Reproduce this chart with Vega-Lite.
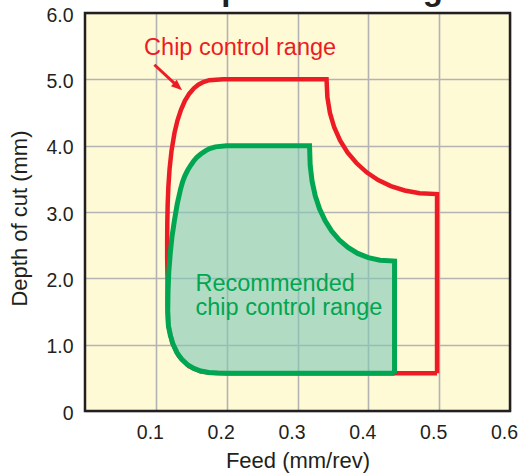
{
  "$schema": "https://vega.github.io/schema/vega-lite/v6.json",
  "autosize": {"type": "none"},
  "padding": {"left": 85, "top": 13, "right": 11, "bottom": 63},
  "width": 425,
  "height": 398,
  "title": {
    "text": "Chip control range",
    "fontSize": 33,
    "fontWeight": "bold",
    "font": "Liberation Sans",
    "color": "#231f20",
    "anchor": "start",
    "frame": "group",
    "dx": 83,
    "offset": -2
  },
  "datasets": {
    "red": [
      {"i": 0, "feed": 0.497, "doc": 0.57},
      {"i": 1, "feed": 0.497, "doc": 3.27},
      {"i": 2, "feed": 0.4725, "doc": 3.2835},
      {"i": 3, "feed": 0.4513, "doc": 3.324},
      {"i": 4, "feed": 0.4318, "doc": 3.39},
      {"i": 5, "feed": 0.4139, "doc": 3.482},
      {"i": 6, "feed": 0.3976, "doc": 3.598},
      {"i": 7, "feed": 0.3832, "doc": 3.738},
      {"i": 8, "feed": 0.3706, "doc": 3.898},
      {"i": 9, "feed": 0.3601, "doc": 4.079},
      {"i": 10, "feed": 0.3518, "doc": 4.277},
      {"i": 11, "feed": 0.3458, "doc": 4.494},
      {"i": 12, "feed": 0.3422, "doc": 4.728},
      {"i": 13, "feed": 0.341, "doc": 5.0},
      {"i": 14, "feed": 0.195, "doc": 5.0},
      {"i": 15, "feed": 0.1755, "doc": 4.987},
      {"i": 16, "feed": 0.167, "doc": 4.96},
      {"i": 17, "feed": 0.16, "doc": 4.919},
      {"i": 18, "feed": 0.1537, "doc": 4.865},
      {"i": 19, "feed": 0.1472, "doc": 4.784},
      {"i": 20, "feed": 0.141, "doc": 4.676},
      {"i": 21, "feed": 0.1355, "doc": 4.541},
      {"i": 22, "feed": 0.1305, "doc": 4.379},
      {"i": 23, "feed": 0.1263, "doc": 4.19},
      {"i": 24, "feed": 0.1221, "doc": 3.92},
      {"i": 25, "feed": 0.1194, "doc": 3.65},
      {"i": 26, "feed": 0.1177, "doc": 3.38},
      {"i": 27, "feed": 0.1167, "doc": 3.11},
      {"i": 28, "feed": 0.1162, "doc": 2.84},
      {"i": 29, "feed": 0.116, "doc": 2.57},
      {"i": 30, "feed": 0.116, "doc": 2.3},
      {"i": 31, "feed": 0.1165, "doc": 2.0},
      {"i": 32, "feed": 0.1165, "doc": 1.6},
      {"i": 33, "feed": 0.1175, "doc": 1.3},
      {"i": 34, "feed": 0.1232, "doc": 1.03},
      {"i": 35, "feed": 0.1325, "doc": 0.83},
      {"i": 36, "feed": 0.1465, "doc": 0.675},
      {"i": 37, "feed": 0.163, "doc": 0.6},
      {"i": 38, "feed": 0.177, "doc": 0.578},
      {"i": 39, "feed": 0.2, "doc": 0.57},
      {"i": 40, "feed": 0.497, "doc": 0.57}
    ],
    "green": [
      {"i": 0, "feed": 0.437, "doc": 0.57},
      {"i": 1, "feed": 0.437, "doc": 2.26},
      {"i": 2, "feed": 0.4166, "doc": 2.273},
      {"i": 3, "feed": 0.4, "doc": 2.312},
      {"i": 4, "feed": 0.385, "doc": 2.376},
      {"i": 5, "feed": 0.3713, "doc": 2.465},
      {"i": 6, "feed": 0.3591, "doc": 2.577},
      {"i": 7, "feed": 0.3482, "doc": 2.713},
      {"i": 8, "feed": 0.3389, "doc": 2.87},
      {"i": 9, "feed": 0.3311, "doc": 3.048},
      {"i": 10, "feed": 0.325, "doc": 3.2455},
      {"i": 11, "feed": 0.3206, "doc": 3.463},
      {"i": 12, "feed": 0.3179, "doc": 3.704},
      {"i": 13, "feed": 0.317, "doc": 4.0},
      {"i": 14, "feed": 0.2, "doc": 4.0},
      {"i": 15, "feed": 0.184, "doc": 3.982},
      {"i": 16, "feed": 0.176, "doc": 3.955},
      {"i": 17, "feed": 0.17, "doc": 3.922},
      {"i": 18, "feed": 0.1635, "doc": 3.875},
      {"i": 19, "feed": 0.158, "doc": 3.826},
      {"i": 20, "feed": 0.1532, "doc": 3.765},
      {"i": 21, "feed": 0.149, "doc": 3.7},
      {"i": 22, "feed": 0.1447, "doc": 3.625},
      {"i": 23, "feed": 0.141, "doc": 3.545},
      {"i": 24, "feed": 0.1378, "doc": 3.455},
      {"i": 25, "feed": 0.135, "doc": 3.35},
      {"i": 26, "feed": 0.1302, "doc": 3.12},
      {"i": 27, "feed": 0.1262, "doc": 2.87},
      {"i": 28, "feed": 0.1227, "doc": 2.62},
      {"i": 29, "feed": 0.1203, "doc": 2.37},
      {"i": 30, "feed": 0.1183, "doc": 2.1},
      {"i": 31, "feed": 0.1172, "doc": 1.8},
      {"i": 32, "feed": 0.1168, "doc": 1.5},
      {"i": 33, "feed": 0.1178, "doc": 1.28},
      {"i": 34, "feed": 0.1205, "doc": 1.14},
      {"i": 35, "feed": 0.1245, "doc": 1.0},
      {"i": 36, "feed": 0.1298, "doc": 0.88},
      {"i": 37, "feed": 0.1365, "doc": 0.78},
      {"i": 38, "feed": 0.1445, "doc": 0.7},
      {"i": 39, "feed": 0.1535, "doc": 0.642},
      {"i": 40, "feed": 0.1635, "doc": 0.603},
      {"i": 41, "feed": 0.1745, "doc": 0.582},
      {"i": 42, "feed": 0.187, "doc": 0.572},
      {"i": 43, "feed": 0.2, "doc": 0.57},
      {"i": 44, "feed": 0.437, "doc": 0.57}
    ],
    "arrow": [
      {"feed": 0.098, "doc": 5.22, "feed2": 0.1313, "doc2": 4.89}
    ],
    "frame": [
      {"feed": 0, "doc": 0, "feed2": 0.6, "doc2": 6}
    ]
  },
  "encoding": {
    "x": {
      "field": "feed",
      "type": "quantitative",
      "scale": {"domain": [0, 0.6], "nice": false, "zero": false},
      "axis": {
        "values": [0.1, 0.2, 0.3, 0.4, 0.5, 0.6],
        "format": ".1f",
        "title": "Feed (mm/rev)",
        "labelOffset": -6,
        "labelPadding": 12,
        "labelFlush": false,
        "titleY": 49,
        "titleBaseline": "middle"
      }
    },
    "y": {
      "field": "doc",
      "type": "quantitative",
      "scale": {"domain": [0, 6], "nice": false, "zero": false},
      "axis": {
        "values": [0, 1, 2, 3, 4, 5, 6],
        "labelExpr": "datum.value == 0 ? '0' : format(datum.value, '.1f')",
        "title": "Depth of cut (mm)",
        "labelPadding": 12,
        "labelOffset": 2,
        "titleX": -66,
        "titleY": 205,
        "titleBaseline": "middle"
      }
    }
  },
  "layer": [
    {
      "data": {"name": "red"},
      "mark": {"type": "line", "color": "#ed1c24", "strokeWidth": 4.5},
      "encoding": {"order": {"field": "i", "type": "quantitative"}}
    },
    {
      "data": {"name": "green"},
      "mark": {
        "type": "line",
        "stroke": "#00a651",
        "strokeWidth": 5,
        "fill": "#7fc6b5",
        "fillOpacity": 0.6
      },
      "encoding": {"order": {"field": "i", "type": "quantitative"}}
    },
    {
      "data": {"name": "arrow"},
      "mark": {"type": "rule", "color": "#ed1c24", "strokeWidth": 3},
      "encoding": {
        "x2": {"field": "feed2"},
        "y2": {"field": "doc2"}
      }
    },
    {
      "data": {"name": "arrow"},
      "mark": {
        "type": "point",
        "shape": "M1,0L-1,-0.8L-1,0.8Z",
        "size": 121,
        "angle": 41,
        "filled": true,
        "color": "#ed1c24",
        "opacity": 1
      },
      "encoding": {
        "x": {"field": "feed2", "type": "quantitative"},
        "y": {"field": "doc2", "type": "quantitative"}
      }
    },
    {
      "data": {"values": [{"feed": 0.219, "doc": 5.37, "label": "Chip control range"}]},
      "mark": {
        "type": "text",
        "align": "center",
        "baseline": "alphabetic",
        "fontSize": 23.5,
        "font": "Liberation Sans",
        "color": "#ed1c24"
      },
      "encoding": {"text": {"field": "label"}}
    },
    {
      "data": {"values": [{"feed": 0.156, "doc": 1.81, "label": "Recommended\nchip control range"}]},
      "mark": {
        "type": "text",
        "align": "left",
        "baseline": "alphabetic",
        "lineBreak": "\n",
        "lineHeight": 24,
        "fontSize": 23.5,
        "font": "Liberation Sans",
        "color": "#00a651"
      },
      "encoding": {"text": {"field": "label"}}
    },
    {
      "data": {"name": "frame"},
      "mark": {
        "type": "rect",
        "filled": false,
        "stroke": "#231f20",
        "strokeWidth": 2.5
      },
      "encoding": {
        "x2": {"field": "feed2"},
        "y2": {"field": "doc2"}
      }
    }
  ],
  "config": {
    "font": "Liberation Sans",
    "view": {"stroke": null, "fill": "#fffad6"},
    "axis": {
      "grid": true,
      "gridColor": "#b3b3b3",
      "gridWidth": 1.6,
      "gridOpacity": 1,
      "ticks": false,
      "domain": false,
      "labelFont": "Liberation Sans",
      "labelFontSize": 19.5,
      "labelColor": "#231f20",
      "titleFont": "Liberation Sans",
      "titleFontSize": 22,
      "titleFontWeight": "normal",
      "titleColor": "#231f20"
    }
  }
}
